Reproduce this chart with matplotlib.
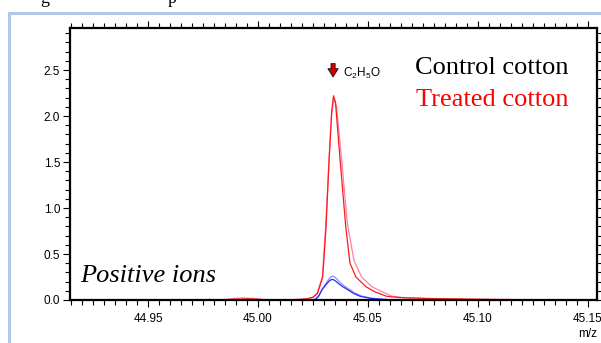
import matplotlib
matplotlib.use("Agg")
import matplotlib.pyplot as plt
from matplotlib.ticker import MultipleLocator, FormatStrFormatter
from matplotlib.lines import Line2D

plt.rcParams['font.family'] = ['Liberation Sans', 'DejaVu Sans']
plt.rcParams['mathtext.fontset'] = 'custom'
plt.rcParams['mathtext.rm'] = 'Liberation Sans'

# treated cotton, two runs (red, pink)
mz_t1 = [44.9145, 44.985, 44.990, 44.995, 45.000, 45.004, 45.012, 45.018, 45.022, 45.025,
         45.027, 45.0294, 45.0309, 45.0323, 45.0335, 45.0343, 45.0352, 45.0373, 45.0399,
         45.0418, 45.0445, 45.049, 45.053, 45.0585, 45.065, 45.080, 45.100, 45.115, 45.125]
int_t1 = [0.0, 0.0, 0.008, 0.012, 0.006, 0.0, 0.0, 0.006, 0.012, 0.03,
          0.07, 0.25, 0.79, 1.52, 2.05, 2.22, 2.15, 1.52, 0.79,
          0.40, 0.25, 0.145, 0.09, 0.04, 0.025, 0.015, 0.008, 0.005, 0.0]

mz_t2 = [44.9145, 44.983, 44.988, 44.993, 44.998, 45.003, 45.010, 45.018, 45.022, 45.025,
         45.027, 45.0292, 45.0307, 45.0322, 45.0334, 45.0345, 45.0357, 45.0379, 45.0405,
         45.0436, 45.0471, 45.0517, 45.0555, 45.061, 45.068, 45.080, 45.100, 45.120]
int_t2 = [0.0, 0.0, 0.015, 0.022, 0.018, 0.004, 0.0, 0.004, 0.01, 0.03,
          0.08, 0.25, 0.78, 1.50, 2.02, 2.19, 2.10, 1.55, 0.85,
          0.43, 0.25, 0.145, 0.10, 0.04, 0.022, 0.012, 0.006, 0.0]

# control cotton, two runs (blue, light blue)
mz_c1 = [44.9145, 44.976, 44.978, 44.980, 45.020, 45.026, 45.0275, 45.029, 45.031, 45.0325,
         45.0336, 45.0348, 45.0365, 45.0385, 45.0409, 45.0435, 45.0464, 45.051, 45.057, 45.063,
         45.154]
int_c1 = [0.0, 0.0, 0.006, 0.0, 0.0, 0.005, 0.04, 0.11, 0.17, 0.21,
          0.225, 0.215, 0.18, 0.145, 0.11, 0.07, 0.04, 0.018, 0.006, 0.0,
          0.0]

mz_c2 = [44.9145, 45.020, 45.026, 45.0277, 45.0292, 45.0311, 45.0326, 45.0338, 45.0349,
         45.0367, 45.0388, 45.0412, 45.0438, 45.0468, 45.0515, 45.0575, 45.064, 45.154]
int_c2 = [0.0, 0.0, 0.006, 0.045, 0.12, 0.19, 0.24, 0.26, 0.25,
          0.205, 0.16, 0.12, 0.08, 0.045, 0.02, 0.007, 0.0, 0.0]

peak_mz = 45.0341
peak_label = r'$\mathrm{C_2H_5O}$'

W, H = 601, 343
fig = plt.figure(figsize=(W / 100, H / 100), dpi=100)
ax = fig.add_axes([70 / W, 1 - 300 / H, (597 - 70) / W, (300 - 28) / H])

# page frame and clipped text from the document above
fig.add_artist(Line2D([9 / W, 1], [1 - 13 / H, 1 - 13 / H], color='#b4c7e7', lw=2.2))
fig.add_artist(Line2D([9 / W, 9 / W], [0, 1 - 13 / H], color='#b4c7e7', lw=2.2))
fig.text(40 / W, 1 - 3 / H, 'g', family='Liberation Serif', fontsize=13, va='baseline')
fig.text(168 / W, 1 - 3 / H, 'p', family='Liberation Serif', fontsize=13, va='baseline')

ax.plot(mz_c2, int_c2, color='#8c8cff', lw=0.9)
ax.plot(mz_c1, int_c1, color='#2a2aff', lw=0.9)
ax.plot(mz_t2, int_t2, color='#ff7fa8', lw=0.9)
ax.plot(mz_t1, int_t1, color='#ff1a1a', lw=0.9)

ax.set_xlim(44.9145, 45.1541)
ax.set_ylim(0, 2.957)

ax.xaxis.set_major_locator(MultipleLocator(0.05))
ax.xaxis.set_minor_locator(MultipleLocator(0.005))
ax.yaxis.set_major_locator(MultipleLocator(0.5))
ax.yaxis.set_minor_locator(MultipleLocator(0.1))
ax.xaxis.set_major_formatter(FormatStrFormatter('%.2f'))
ax.yaxis.set_major_formatter(FormatStrFormatter('%.1f'))

ax.tick_params(which='both', direction='out', top=True, right=True,
               labeltop=False, labelright=False, width=0.8, labelsize=8.5, pad=2)
ax.tick_params(which='major', length=5)
ax.tick_params(which='minor', length=3.5)
ax.tick_params(axis='x', which='major', pad=4)
for s in ax.spines.values():
    s.set_linewidth(1.6)

ax.annotate('', xy=(peak_mz, 2.424), xytext=(peak_mz, 2.57),
            arrowprops=dict(arrowstyle='simple,head_width=0.75,head_length=0.6,tail_width=0.3',
                            fc='#cc0000', ec='black', lw=0.5, shrinkA=0, shrinkB=0))
ax.text(45.0384, 2.427, peak_label, fontsize=8.5, va='baseline', ha='left')

ax.text(0.945, 0.831, 'Control cotton', transform=ax.transAxes, ha='right', va='baseline',
        family='Liberation Serif', fontsize=19, color='black')
ax.text(0.945, 0.713, 'Treated cotton', transform=ax.transAxes, ha='right', va='baseline',
        family='Liberation Serif', fontsize=19, color='red')
ax.text(0.019, 0.066, 'Positive ions', transform=ax.transAxes, ha='left', va='baseline',
        family='Liberation Serif', style='italic', fontsize=19)

fig.text(597 / W, 1 - 334 / H, 'm/z', ha='right', va='center', fontsize=8.5)

fig.savefig('out.png', dpi=100)
